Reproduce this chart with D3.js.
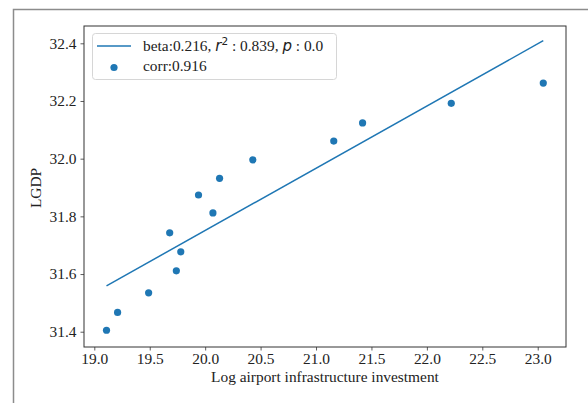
<!DOCTYPE html>
<html>
<head>
<meta charset="utf-8">
<script src="https://cdn.jsdelivr.net/npm/d3@7"></script>
<style>
  body { margin: 0; background: #fff; }
</style>
</head>
<body>
<div id="chart"></div>
<script>
// data
const investment = [19.11, 19.21, 19.49, 19.68, 19.74, 19.78, 19.94, 20.07, 20.13, 20.43, 21.16, 21.42, 22.22, 23.05];
const lgdp = [31.405, 31.467, 31.535, 31.743, 31.611, 31.677, 31.874, 31.812, 31.932, 31.996, 32.061, 32.124, 32.192, 32.262];
const fitX = [19.11, 23.05];
const fitY = [31.559, 32.409];
const xTicks = [19.0, 19.5, 20.0, 20.5, 21.0, 21.5, 22.0, 22.5, 23.0];
const yTicks = [31.4, 31.6, 31.8, 32.0, 32.2, 32.4];
const corrLabel = "corr:0.916";

const width = 588, height = 403;
const plot = { left: 84, top: 26, right: 566, bottom: 347 };
const blue = "#1f77b4";
const serif = "'Liberation Serif', 'Times New Roman', serif";
const mathFont = "'DejaVu Sans', sans-serif";
const fontSize = "15.4px";

const svg = d3.select("#chart").append("svg")
    .attr("width", width)
    .attr("height", height);

// outer frame (screenshot border)
svg.append("path")
    .attr("d", `M13.5,${height} L13.5,9.5 L${width},9.5`)
    .attr("fill", "none")
    .attr("stroke", "#8c8c8c")
    .attr("stroke-width", 1.5);

const x = d3.scaleLinear().domain([18.907, 23.255]).range([plot.left, plot.right]);
const y = d3.scaleLinear().domain([31.347, 32.46]).range([plot.bottom, plot.top]);

// axes
const xAxis = svg.append("g")
    .attr("transform", `translate(0,${plot.bottom})`)
    .call(d3.axisBottom(x).tickValues(xTicks).tickFormat(d3.format(".1f")).tickSize(3.5).tickPadding(3));
const yAxis = svg.append("g")
    .attr("transform", `translate(${plot.left},0)`)
    .call(d3.axisLeft(y).tickValues(yTicks).tickFormat(d3.format(".1f")).tickSize(3.5).tickPadding(4));

[xAxis, yAxis].forEach(g => {
    g.attr("font-family", null).attr("font-size", null);
    g.select(".domain").remove();
    g.selectAll("line").attr("stroke", "#333").attr("stroke-width", 0.8);
    g.selectAll("text")
        .style("font-family", serif)
        .style("font-size", fontSize)
        .attr("fill", "#222");
});

// spines
svg.append("rect")
    .attr("x", plot.left)
    .attr("y", plot.top)
    .attr("width", plot.right - plot.left)
    .attr("height", plot.bottom - plot.top)
    .attr("fill", "none")
    .attr("stroke", "#333")
    .attr("stroke-width", 1);

// fitted line
svg.append("path")
    .datum(fitX.map((v, i) => [v, fitY[i]]))
    .attr("fill", "none")
    .attr("stroke", blue)
    .attr("stroke-width", 1.5)
    .attr("d", d3.line().x(d => x(d[0])).y(d => y(d[1])));

// points
svg.selectAll(".dot")
    .data(investment.map((v, i) => ({ x: v, y: lgdp[i] })))
    .enter().append("circle")
    .attr("class", "dot")
    .attr("cx", d => x(d.x))
    .attr("cy", d => y(d.y))
    .attr("r", 3.6)
    .attr("fill", blue);

// axis labels
svg.append("text")
    .attr("x", (plot.left + plot.right) / 2)
    .attr("y", 381.5)
    .attr("text-anchor", "middle")
    .style("font-family", serif)
    .style("font-size", fontSize)
    .attr("fill", "#222")
    .text("Log airport infrastructure investment");

svg.append("text")
    .attr("transform", `translate(41,188) rotate(-90)`)
    .attr("text-anchor", "middle")
    .style("font-family", serif)
    .style("font-size", fontSize)
    .attr("fill", "#222")
    .text("LGDP");

// legend
const legend = svg.append("g");
legend.append("rect")
    .attr("x", 92.5)
    .attr("y", 33.5)
    .attr("width", 244)
    .attr("height", 46)
    .attr("rx", 3)
    .attr("fill", "#fff")
    .attr("fill-opacity", 0.8)
    .attr("stroke", "#d6d6d6");

legend.append("line")
    .attr("x1", 97).attr("x2", 131)
    .attr("y1", 46).attr("y2", 46)
    .attr("stroke", blue)
    .attr("stroke-width", 1.5);

legend.append("circle")
    .attr("cx", 114).attr("cy", 67.5)
    .attr("r", 3.6)
    .attr("fill", blue);

const t1 = legend.append("text")
    .attr("x", 143)
    .attr("y", 50.5)
    .style("font-family", serif)
    .style("font-size", fontSize)
    .attr("fill", "#222");
t1.append("tspan").text("beta:0.216, ");
t1.append("tspan").style("font-family", mathFont).style("font-style", "italic").style("font-size", "15px").text("r");
t1.append("tspan").attr("dy", -6).style("font-family", mathFont).style("font-size", "10.5px").text("2");
t1.append("tspan").attr("dy", 6).text(" : 0.839, ");
t1.append("tspan").style("font-family", mathFont).style("font-style", "italic").style("font-size", "15px").text("p");
t1.append("tspan").text(" : 0.0");

legend.append("text")
    .attr("x", 143)
    .attr("y", 71)
    .style("font-family", serif)
    .style("font-size", fontSize)
    .attr("fill", "#222")
    .text(corrLabel);
</script>
</body>
</html>
